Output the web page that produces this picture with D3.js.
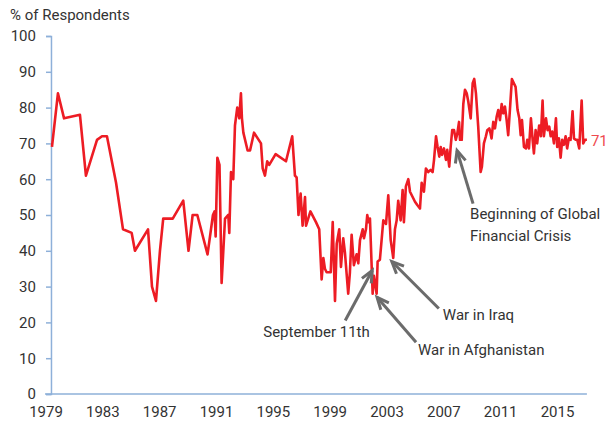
<!DOCTYPE html>
<html>
<head>
<meta charset="utf-8">
<script src="https://cdn.jsdelivr.net/npm/d3@7"></script>
<style>
  body { margin: 0; background: #fff; }
  text { font-family: Roboto, "Liberation Sans Narrow", sans-serif; fill: #333; }
</style>
</head>
<body>
<script>
const width = 616;
const height = 421;

// survey dates (decimal years) and share of respondents (%)
const dates = [
  1979.42, 1979.84, 1980.27, 1981.39, 1981.81, 1982.59, 1982.94, 1983.29, 1983.93, 1984.42,
  1985.03, 1985.26, 1986.18, 1986.46, 1986.74, 1987.02, 1987.25, 1987.92, 1988.66, 1989.03,
  1989.32, 1989.65, 1990.37, 1990.75, 1990.86, 1990.94, 1991.06, 1991.21, 1991.36, 1991.6,
  1991.83, 1991.9, 1992.02, 1992.18, 1992.3, 1992.46, 1992.6, 1992.72, 1992.79, 1992.89,
  1993.19, 1993.36, 1993.64, 1994.13, 1994.25, 1994.41, 1994.57, 1994.71, 1995.16, 1995.89,
  1996.33, 1996.52, 1996.64, 1996.77, 1996.92, 1997.06, 1997.23, 1997.3, 1997.61, 1998.0,
  1998.23, 1998.4, 1998.52, 1998.63, 1998.75, 1999.04, 1999.18, 1999.34, 1999.46, 1999.64,
  1999.76, 1999.92, 2000.04, 2000.27, 2000.39, 2000.51, 2000.67, 2000.86, 2000.98, 2001.1,
  2001.29, 2001.38, 2001.52, 2001.61, 2001.71, 2001.8, 2001.99, 2002.08, 2002.27, 2002.34,
  2002.5, 2002.74, 2002.93, 2003.09, 2003.26, 2003.44, 2003.56, 2003.68, 2003.79, 2003.96,
  2004.1, 2004.19, 2004.33, 2004.5, 2004.62, 2004.97, 2005.13, 2005.32, 2005.44, 2005.6,
  2005.74, 2005.9, 2006.07, 2006.21, 2006.31, 2006.45, 2006.56, 2006.68, 2006.78, 2006.87,
  2007.01, 2007.15, 2007.24, 2007.38, 2007.48, 2007.59, 2007.72, 2007.84, 2007.95, 2008.07,
  2008.14, 2008.26, 2008.37, 2008.49, 2008.61, 2008.72, 2008.89, 2009.03, 2009.14, 2009.26,
  2009.42, 2009.59, 2009.68, 2009.82, 2009.96, 2010.06, 2010.2, 2010.29, 2010.36, 2010.48,
  2010.6, 2010.72, 2010.83, 2010.95, 2011.07, 2011.18, 2011.3, 2011.42, 2011.53, 2011.65,
  2011.79, 2011.93, 2012.05, 2012.19, 2012.31, 2012.41, 2012.5, 2012.64, 2012.78, 2012.87,
  2012.99, 2013.13, 2013.25, 2013.34, 2013.46, 2013.57, 2013.71, 2013.83, 2013.95, 2014.04,
  2014.19, 2014.3, 2014.42, 2014.52, 2014.63, 2014.75, 2014.89, 2014.98, 2015.1, 2015.22,
  2015.33, 2015.45, 2015.57, 2015.68, 2015.8, 2015.92, 2016.06, 2016.16, 2016.28, 2016.39,
  2016.53, 2016.7, 2016.81, 2016.93, 2017.07
];
const values = [
  69, 84, 77, 78, 61, 71, 72, 72, 59, 46,
  45, 40, 46, 30, 26, 40, 49, 49, 54, 40,
  50, 50, 39, 50, 51, 44, 66, 64, 31, 49,
  50, 45, 62, 60, 75, 80, 77, 84, 77, 73,
  68, 68, 73, 70, 63, 61, 65, 64, 67, 65,
  72, 61, 60.5, 50, 56, 47, 55, 47, 51, 48,
  46, 32, 38, 35, 34, 34, 48, 26, 42, 46,
  35.5, 43.5, 39.5, 28, 34, 44.5, 36, 39, 36.5, 43,
  46, 43.5, 46, 50, 48, 49, 28, 33, 28, 37,
  37.5, 48.5, 47.5, 55.5, 43, 38, 46, 48.5, 54, 48.5,
  57, 48, 58, 60, 56.5, 53.7, 52.8, 51.8, 59, 56.5,
  63, 62, 62.6, 62, 65.4, 72, 69, 66.3, 69, 66.8,
  68.6, 65.4, 68.2, 63.5, 69, 73.7, 73.7, 71, 72.8, 76,
  71, 71, 81, 85, 84, 81.7, 77, 86.8, 88, 84,
  74.7, 62, 63.5, 70, 72, 73.7, 74.2, 72.8, 71.4, 76,
  74.2, 77.5, 79.3, 76.5, 81, 78.4, 80.3, 76.5, 72.3, 79.3,
  88, 86.8, 85.8, 79.3, 77, 72.3, 76.5, 69, 68.6, 71,
  68.6, 77, 71, 67.2, 73.7, 70, 75, 72, 82, 72,
  77, 73.7, 74.7, 72, 73.3, 70, 77, 69, 71.4, 66,
  71, 69.6, 72, 68.6, 71.4, 71, 79, 71.4, 71, 71,
  68.6, 82, 70, 71, 71
];

const yTicks = d3.range(0, 101, 10);
const xTickYears = d3.range(1979, 2016, 4);
const lastLabel = '71';

// annotations: arrow tip at (date, value), text below the tail
const notes = [
  { date: 2001.96, value: 34.5, dx: -27, dy: 50, lines: ['September 11th'], tx: -109, ty: 67 },
  { date: 2002.3, value: 27, dx: 39, dy: 45, lines: ['War in Afghanistan'], tx: 41, ty: 58 },
  { date: 2003.34, value: 37, dx: 47, dy: 47, lines: ['War in Iraq'], tx: 51, ty: 58 },
  { date: 2007.93, value: 68, dx: 16, dy: 53, lines: ['Beginning of Global', 'Financial Crisis'], tx: 13, ty: 68 }
];

const xStart = 1979.35;
const xEnd = 2017.07;

const x = d3.scaleLinear().domain([1979, 2015]).range([46, 557.5]);
const y = d3.scaleLinear().domain([0, 100]).range([394, 36]);

const svg = d3.select('body').append('svg').attr('width', width).attr('height', height);

const axisColor = '#8eb0d9';

// y axis
const yAxis = svg
  .append('g')
  .attr('transform', 'translate(' + x(xStart) + ',0)')
  .call(d3.axisLeft(y).tickValues(yTicks).tickSize(5).tickSizeOuter(5).tickPadding(10));
yAxis.select('.domain').attr('stroke', axisColor).attr('stroke-width', 1.5);
yAxis.selectAll('.tick line').attr('stroke', axisColor).attr('stroke-width', 1.5);
yAxis.selectAll('.tick text').style('font-size', '15px').attr('fill', '#333');

// x axis baseline
svg
  .append('line')
  .attr('x1', x(xStart) - 6)
  .attr('x2', x(xEnd))
  .attr('y1', y(0))
  .attr('y2', y(0))
  .attr('stroke', axisColor)
  .attr('stroke-width', 1.5);

svg
  .selectAll('.xlabel')
  .data(xTickYears)
  .enter()
  .append('text')
  .attr('class', 'xlabel')
  .attr('x', function (d) {
    return x(d);
  })
  .attr('y', 417)
  .attr('text-anchor', 'middle')
  .style('font-size', '15px')
  .text(function (d) {
    return d;
  });

svg
  .append('text')
  .attr('x', 10)
  .attr('y', 20)
  .style('font-size', '15px')
  .text('% of Respondents');

// series
const line = d3
  .line()
  .x(function (d) {
    return x(d[0]);
  })
  .y(function (d) {
    return y(d[1]);
  });

svg
  .append('path')
  .datum(d3.zip(dates, values))
  .attr('d', line)
  .attr('fill', 'none')
  .attr('stroke', '#ed1c24')
  .attr('stroke-width', 2.6)
  .attr('stroke-linejoin', 'round');

svg
  .append('text')
  .attr('x', x(dates[dates.length - 1]) + 4)
  .attr('y', y(values[values.length - 1]) + 6)
  .style('font-size', '15px')
  .style('fill', '#ef4a4f')
  .text(lastLabel);

// arrows
const arrowColor = '#6b6b6b';
notes.forEach(function (n) {
  const tipX = x(n.date);
  const tipY = y(n.value);
  const tailX = tipX + n.dx;
  const tailY = tipY + n.dy;
  const ang = Math.atan2(tailY - tipY, tailX - tipX);
  const w = 13;
  const spread = 0.42;
  const g = svg.append('g').attr('stroke', arrowColor).attr('stroke-width', 3).attr('fill', 'none');
  g.append('line').attr('x1', tailX).attr('y1', tailY).attr('x2', tipX).attr('y2', tipY);
  g.append('path')
    .attr('stroke-linejoin', 'miter')
    .attr(
      'd',
      'M' + (tipX + w * Math.cos(ang - spread)) + ',' + (tipY + w * Math.sin(ang - spread)) +
        'L' + tipX + ',' + tipY +
        'L' + (tipX + w * Math.cos(ang + spread)) + ',' + (tipY + w * Math.sin(ang + spread))
    );
  n.lines.forEach(function (t, i) {
    svg
      .append('text')
      .attr('x', tipX + n.tx)
      .attr('y', tipY + n.ty + i * 22)
      .style('font-size', '15px')
      .text(t);
  });
});
</script>
</body>
</html>
